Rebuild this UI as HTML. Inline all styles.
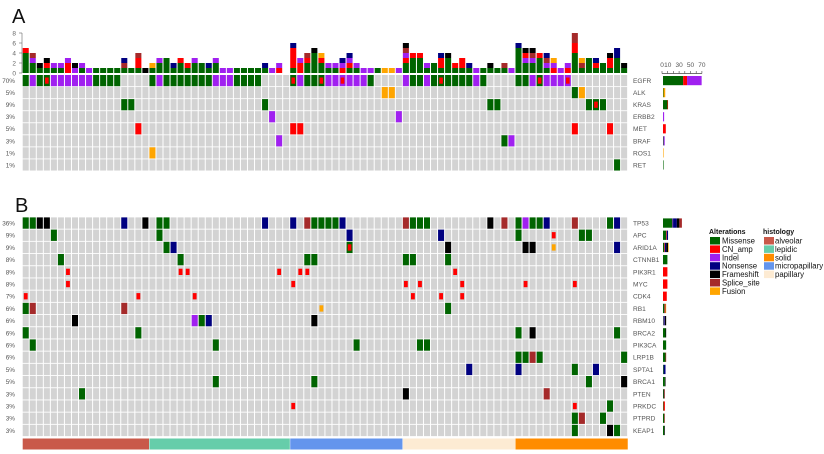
<!DOCTYPE html>
<html><head><meta charset="utf-8"><style>
html,body{margin:0;padding:0;background:#fff;width:824px;height:454px;overflow:hidden}
svg text{font-family:"Liberation Sans",sans-serif}
</style></head><body>
<svg id="chart" width="824" height="454" viewBox="0 0 824 454" xmlns="http://www.w3.org/2000/svg">
<text x="12" y="23" font-size="20" fill="#111">A</text>
<text x="15" y="212" font-size="20" fill="#111">B</text>
</svg>
<script>
// ---------- data ----------
const nSamples = 86;
const stackCounts = ['MMMMA','MMIS','MF','MAF','MI','MI','AAI','IF','MI','I','M','M','M','M','MSN','M','MAAS','F','MU','MMI','MMM','MN','MMA','MA','MMI','MM','MN','MMI','I','I','M','M','M','M','MN','I','AI','','MAAAAN','AAI','MMAS','MMMMF','MMAU','MI','MI','AIN','MAIN','MI','I','I','M','U','U','I','MMAISF','MMMA','MMMA','MI','MM','MAAN','MMMF','MA','MAA','MN','I','M','MF','M','MS','I','MMMMMN','MMIAF','MMISF','MMMA','MISN','AIU','I','AI','MMMMAASS','MSU','MMM','MAN','MM','MAAF','MMMNN','MF'];
const yTicksA = [0,2,4,6,8];
const sideTicks = [0,10,20,30,40,50,60,70];
const sideTickLabels = ['0','10','','30','','50','','70'];

const genesA = ['EGFR','ALK','KRAS','ERBB2','MET','BRAF','ROS1','RET'];
const pctA = ['70%','5%','9%','3%','5%','3%','1%','1%'];
const EGFR = ['0M','1I','2M','3MA','4I','5I','6I','7I','8I','9I','10M','11M','12M','13M','18M','19I','20M','21M','22M','23M','24M','25M','26M','27I','28I','29I','30M','31M','32M','33M','38MA','39I','40M','41M','42MA','43I','44I','45IA','46I','47I','48I','49M','54I','55M','56M','57I','58M','59MA','60M','61M','62M','63M','64I','65M','70M','71M','72I','73MA','74I','75I','76I','77IA'];
const ALK = ['51U','52U','78M','79U'];
const KRAS = ['14M','15M','34M','66M','67M','80M','81MA','82M'];
const ERBB2 = ['35I','53I'];
const MET = ['16A','38A','39A','78A','83A'];
const BRAF = ['36I','68M','69I'];
const ROS1 = ['18U'];
const RET = ['84M'];
const rowsA = [EGFR,ALK,KRAS,ERBB2,MET,BRAF,ROS1,RET];

const genesB = ['TP53','APC','ARID1A','CTNNB1','PIK3R1','MYC','CDK4','RB1','RBM10','BRCA2','PIK3CA','LRP1B','SPTA1','BRCA1','PTEN','PRKDC','PTPRD','KEAP1'];
const pctB = ['36%','9%','9%','8%','8%','8%','7%','6%','6%','6%','6%','6%','5%','5%','3%','3%','3%','3%'];
const TP53 = ['0M','1M','2F','3F','14N','17F','19M','20M','34N','38N','40S','41M','42M','43M','44M','45N','54S','55M','56M','57M','66F','68S','70M','71I','72M','73M','74N','78S','83M','84N'];
const APC = ['4M','19M','46N','59N','70M','75A','79M','80M'];
const ARID1A = ['20M','21N','46MA','60F','71F','72F','75U','84N'];
const CTNNB1 = ['5M','22M','40M','41M','54M','55M','60M'];
const PIK3R1 = ['6A','22A','23A','36A','39A','40A','61A'];
const MYC = ['6A','38A','54A','56A','62A','71A','78A'];
const CDK4 = ['0A','16A','24A','55A','59A','62A'];
const RB1 = ['0M','1S','14S','42U','60M'];
const RBM10 = ['7F','24I','25M','26N','41F'];
const BRCA2 = ['0M','16M','70M','72F','84M'];
const PIK3CA = ['1M','27M','47M','56M','57M'];
const LRP1B = ['70M','71M','72S','73M','85M'];
const SPTA1 = ['63N','70N','78M','81N'];
const BRCA1 = ['27M','41M','80M','85F'];
const PTEN = ['8M','54F','74S'];
const PRKDC = ['38A','78A','83M'];
const PTPRD = ['78M','79S','82M'];
const KEAP1 = ['78M','83F','84M'];
const rowsB = [TP53,APC,ARID1A,CTNNB1,PIK3R1,MYC,CDK4,RB1,RBM10,BRCA2,PIK3CA,LRP1B,SPTA1,BRCA1,PTEN,PRKDC,PTPRD,KEAP1];

const histCats = ['alveolar','lepidic','micropapillary','papillary','solid'];
const histCounts = [18,20,16,16,16];

const altTypes = ['M','A','I','N','F','S','U'];
const altNames = ['Missense','CN_amp','Indel','Nonsense','Frameshift','Splice_site','Fusion'];
const altColors = {M:'#006400',A:'#ff0000',I:'#a020f0',N:'#000080',F:'#000000',S:'#a52a2a',U:'#ffa500'};
const histLegend = ['alveolar','lepidic','solid','micropapillary','papillary'];
const histColors = {alveolar:'#c9594a',lepidic:'#66cdaa',solid:'#ff8c00',micropapillary:'#6495ed',papillary:'#fdebd3'};

// ---------- layout ----------
const svg = document.getElementById('chart');
const NS = 'http://www.w3.org/2000/svg';
const x0 = 22.3, cw = 7.04;
const xCol = c => x0 + c*cw;
const unitH = 5, baseA = 73;
const yBar = v => baseA - v*unitH;
const rowA0 = 75, rowAStep = 12.05;
const rowB0 = 217.4, rowBStep = 12.2;
const sideX0 = 662;
const sidePct = p => sideX0 + p*0.57;

function mk(tag, attrs){const e=document.createElementNS(NS,tag);for(const k in attrs)e.setAttribute(k,attrs[k]);svg.appendChild(e);return e;}
function parse(s){const m=s.match(/^(\d+)([A-Z]+)$/);return {c:+m[1],t:m[2]};}

// top stacked bars
yTicksA.forEach(v=>{
  const t=mk('line',{x1:19,x2:22,y1:yBar(v),y2:yBar(v),stroke:'#666','stroke-width':0.6});
  
  
  const l=mk('text',{x:16,y:yBar(v)+2.3,'font-size':6.5,fill:'#666','text-anchor':'end'});
  l.textContent=v;
  
  
});
const ax=mk('line',{x1:22,x2:22,y1:yBar(8),y2:baseA,stroke:'#666','stroke-width':0.6});


stackCounts.forEach((s,c)=>{
  s.split('').forEach((t,i)=>{
    const r=mk('rect',{x:xCol(c)+0.4,y:yBar(i+1),width:cw-1,height:unitH,fill:altColors[t]});
    
    
  });
});

function drawGrid(rows, genes, pcts, y0, step, h, smallAmp, prefix, sidePx){
  rows.forEach((row,g)=>{
    const y=y0+g*step;
    for(let c=0;c<nSamples;c++){
      const r=mk('rect',{x:xCol(c)+0.4,y:y,width:cw-1,height:h,fill:'#d3d3d3'});
      
      
    }
    const counts={};
    row.forEach(s=>{
      const p=parse(s);
      p.t.split('').forEach(t=>counts[t]=(counts[t]||0)+1);
      const main=p.t[0];
      let r;
      if((main==='A'||main==='U')&&smallAmp){
        r=mk('rect',{x:xCol(p.c)+1.5,y:y+2.5,width:cw-3.2,height:h-5,fill:altColors[main]});
      } else {
        r=mk('rect',{x:xCol(p.c)+0.4,y:y,width:cw-1,height:h,fill:altColors[main]});
      }
      
      
      if(p.t.length>1){
        const t2=p.t[1];
        const r2=mk('rect',{x:xCol(p.c)+1.6,y:y+2.5,width:cw-3.4,height:h-5,fill:altColors[t2]});
        
        
      }
    });
    const gl=mk('text',{x:633,y:y+h/2+2.4,'font-size':6.6,fill:'#555'});
    gl.textContent=genes[g];
    
    
    const pl=mk('text',{x:15,y:y+h/2+2.4,'font-size':6.4,fill:'#555','text-anchor':'end'});
    pl.textContent=pcts[g];
    
    
    let sx=sideX0+1;
    altTypes.forEach(t=>{
      if(!counts[t])return;
      const w=counts[t]*sidePx;
      const sb=mk('rect',{x:sx,y:y+1,width:w,height:h-2,fill:altColors[t]});
      
      
      sx+=w;
    });
  });
}
drawGrid(rowsA,genesA,pctA,rowA0,rowAStep,11.2,false,'a-',0.56);
drawGrid(rowsB,genesB,pctB,rowB0,rowBStep,11.3,true,'b-',0.63);

// side axis panel A
const sa=mk('line',{x1:sidePct(0),x2:sidePct(70),y1:73.5,y2:73.5,stroke:'#444','stroke-width':0.7});


sideTicks.forEach((v,i)=>{
  const t=mk('line',{x1:sidePct(v),x2:sidePct(v),y1:71,y2:73.5,stroke:'#444','stroke-width':0.6});
  
  
  if(sideTickLabels[i]){
    const l=mk('text',{x:sidePct(v),y:67,'font-size':6.5,fill:'#555','text-anchor':'middle'});
    l.textContent=sideTickLabels[i];
    
    
  }
});

// histology bar
let hc=0;
histCats.forEach((cat,i)=>{
  const r=mk('rect',{x:xCol(hc)+0.4,y:438.5,width:histCounts[i]*cw-0.4,height:11,fill:histColors[cat]});
  
  
  hc+=histCounts[i];
});

// legend
const t1=mk('text',{x:709,y:234,'font-size':7,'font-weight':'bold',fill:'#111'});
t1.textContent='Alterations';


altTypes.forEach((t,i)=>{
  const y=237+i*8.4;
  const r=mk('rect',{x:710,y:y,width:10,height:7.5,fill:altColors[t]});
  
  
  const l=mk('text',{x:722,y:y+6.5,'font-size':7.8,fill:'#111'});
  l.textContent=altNames[i];
  
  
});
const t2=mk('text',{x:763,y:234,'font-size':7,'font-weight':'bold',fill:'#111'});
t2.textContent='histology';


histLegend.forEach((h,i)=>{
  const y=237+i*8.4;
  const r=mk('rect',{x:764,y:y,width:10,height:7.5,fill:histColors[h]});
  
  
  const l=mk('text',{x:775,y:y+6.5,'font-size':7.8,fill:'#111'});
  l.textContent=h;
  
  
});
</script>
</body></html>
